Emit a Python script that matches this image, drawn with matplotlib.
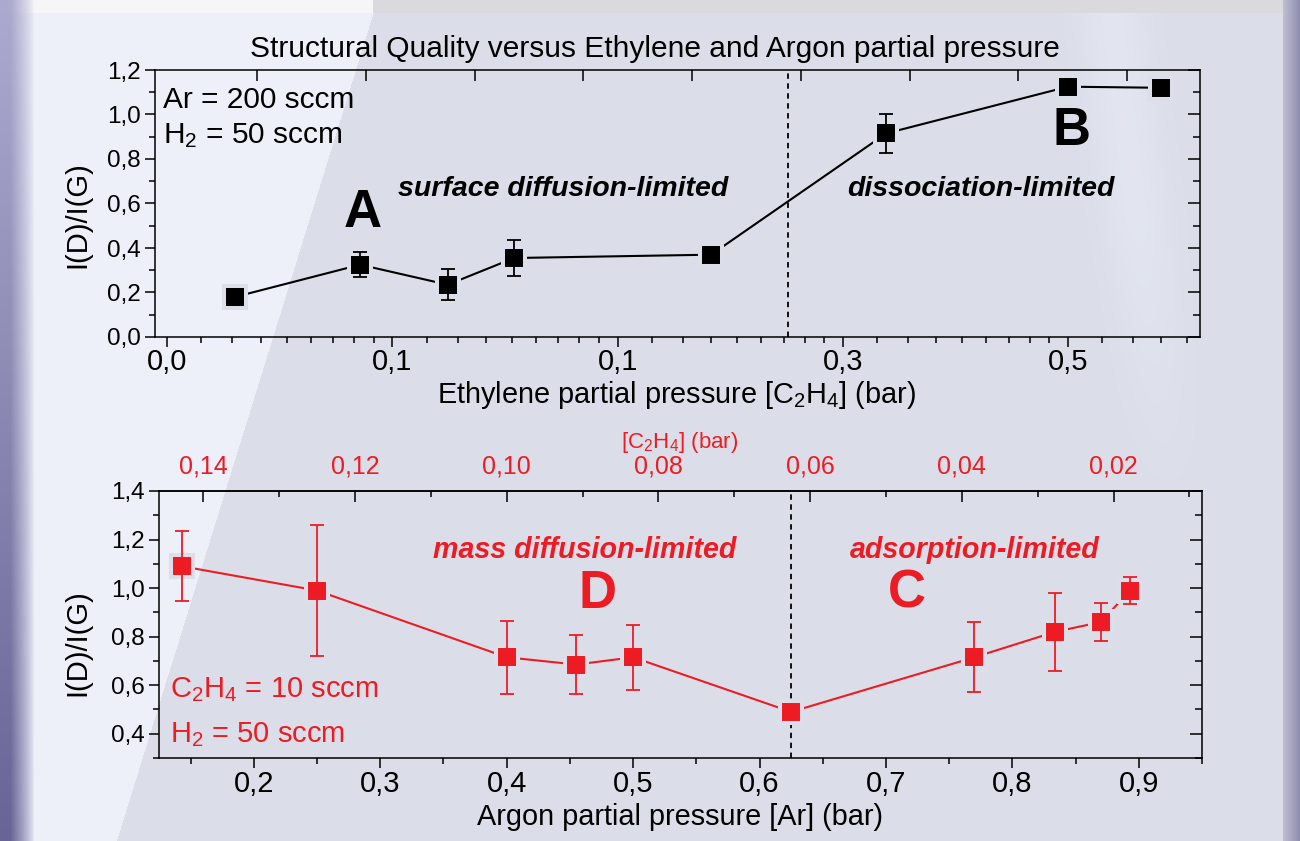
import numpy as np
import matplotlib
matplotlib.use("Agg")
import matplotlib.pyplot as plt
from matplotlib.ticker import FixedLocator, FixedFormatter, MultipleLocator, FuncFormatter, NullFormatter

W, H = 1300, 841

# ethylene series (Ar = 200 sccm, H2 = 50 sccm)
eth_p = [0.0385, 0.0566, 0.0741, 0.0909, 0.1667, 0.2857, 0.5, 0.6667]
eth_ratio = [0.18, 0.325, 0.235, 0.355, 0.37, 0.915, 1.125, 1.12]
eth_err = [0.035, 0.055, 0.07, 0.08, 0.03, 0.088, 0.03, 0.03]
eth_split = 0.211
eth_ticks = [0.03125, 0.0625, 0.125, 0.25, 0.5]
eth_ticklabels = ["0,0", "0,1", "0,1", "0,3", "0,5"]

# argon series (C2H4 = 10 sccm, H2 = 50 sccm)
ar_p = [0.143, 0.25, 0.40, 0.455, 0.50, 0.625, 0.77, 0.834, 0.87, 0.893]
ar_ratio = [1.09, 0.99, 0.715, 0.685, 0.715, 0.49, 0.715, 0.82, 0.86, 0.99]
ar_err = [0.145, 0.27, 0.15, 0.12, 0.135, 0.02, 0.145, 0.16, 0.08, 0.055]
ar_split = 0.625
c2h4_ticks = [0.14, 0.12, 0.10, 0.08, 0.06, 0.04, 0.02]

RED = "#ed1c24"
GAP = "#dcdfe9"
plt.rcParams["font.family"] = ["Liberation Sans", "DejaVu Sans"]


def fx(x):
    return x / W


def fy(y):
    return 1 - y / H


def comma1(v, pos):
    return f"{v:.1f}".replace(".", ",")


def comma2(v, pos):
    return f"{v:.2f}".replace(".", ",")


fig = plt.figure(figsize=(13, 8.41), dpi=100)

# slide background
bg = fig.add_axes([0, 0, 1, 1], zorder=-10)
yy, xx = np.mgrid[0:H, 0:W]
img = np.empty((H, W, 3))
img[:] = np.array([237, 240, 249]) / 255
img[xx > 373 - 0.31 * (yy - 13)] = np.array([219, 222, 232]) / 255
# soft light swoosh on the upper right
sw = np.exp(-((xx - (1110 + 0.12 * yy)) / 35.0) ** 2) * np.clip((520 - yy) / 300, 0, 1) * 0.55
img = img * (1 - sw[..., None]) + np.array([232, 236, 246]) / 255 * sw[..., None]
img[(yy < 13) & (xx < 373)] = np.array([246, 246, 249]) / 255
img[(yy < 13) & (xx >= 373)] = np.array([217, 217, 222]) / 255
w = (np.clip((34 - xx) / 24, 0, 1) ** 0.8)[..., None]
frac = (yy / H)[..., None]
purple = (np.array([172, 170, 206]) * (1 - frac) + np.array([104, 100, 150]) * frac) / 255
img = img * (1 - w) + purple * w
right = xx >= 1283
t = ((xx - 1283) / 17)[right][:, None]
img[right] = (np.array([190, 189, 210]) * (1 - t) + np.array([142, 140, 174]) * t) / 255
bg.imshow(img, extent=(0, W, H, 0), aspect="auto", interpolation="bilinear")
bg.set_axis_off()


def frame(ax, right_major, right_minor):
    ax.set_facecolor("none")
    for s in ax.spines.values():
        s.set_linewidth(1.1)
    rt = ax.twinx()
    rt.set_ylim(ax.get_ylim())
    rt.yaxis.set_major_locator(MultipleLocator(right_major))
    rt.yaxis.set_minor_locator(MultipleLocator(right_minor))
    rt.tick_params(axis="y", which="both", direction="in", labelright=False, width=1.1)
    rt.tick_params(axis="y", which="major", length=9)
    rt.tick_params(axis="y", which="minor", length=5)
    for s in rt.spines.values():
        s.set_visible(False)
    return rt


# ---------- top panel ----------
ax1 = fig.add_axes([fx(155), fy(337), fx(1200) - fx(155), (337 - 70) / H])
ax1.plot(eth_p, eth_ratio, color="k", lw=1.5, zorder=2)
ax1.plot(eth_p, eth_ratio, "s", ls="none", ms=15.8, mfc="k", mec=GAP, mew=2.9, zorder=3)
ax1.errorbar(eth_p, eth_ratio, yerr=eth_err, fmt="none", ecolor="k",
             elinewidth=1.3, capsize=4.7, capthick=1.3, zorder=4)
ax1.axvline(eth_split, color="k", ls=(0, (3, 2.5)), lw=1.3, zorder=1)
ax1.set_xscale("log", base=2)
ax1.set_xlim(0.0301, 0.7506)
ax1.set_ylim(0, 1.2)
ax1.xaxis.set_major_locator(FixedLocator(eth_ticks))
ax1.xaxis.set_major_formatter(FixedFormatter(eth_ticklabels))
ax1.xaxis.set_minor_locator(FixedLocator([t * (1 + k / 9) for t in eth_ticks for k in range(1, 9)]))
ax1.xaxis.set_minor_formatter(NullFormatter())
ax1.yaxis.set_major_locator(MultipleLocator(0.2))
ax1.yaxis.set_minor_locator(MultipleLocator(0.1))
ax1.yaxis.set_major_formatter(FuncFormatter(comma1))
ax1.tick_params(axis="both", which="both", direction="out", width=1.1)
ax1.tick_params(axis="both", which="major", length=7)
ax1.tick_params(axis="both", which="minor", length=4)
ax1.tick_params(axis="x", labelsize=21, pad=1)
ax1.tick_params(axis="y", labelsize=17.5, pad=3)
frame(ax1, 0.2, 0.1)
tw = ax1.twiny()
tw.set_xlim(-0.938, 8.671)
tw.set_xticks(range(9))
tw.tick_params(axis="x", direction="in", length=8, width=1.1, labeltop=False)
for s in tw.spines.values():
    s.set_visible(False)

fig.text(fx(655), fy(57), "Structural Quality versus Ethylene and Argon partial pressure",
         fontsize=21.5, ha="center", va="baseline")
fig.text(fx(163), fy(108), "Ar = 200 sccm", fontsize=21.5, va="baseline")
fig.text(fx(163), fy(143), r"H$\mathregular{_2}$ = 50 sccm", fontsize=21.5, va="baseline")
fig.text(fx(363), fy(227), "A", fontsize=38, weight="bold", ha="center", va="baseline")
fig.text(fx(1072), fy(145), "B", fontsize=38, weight="bold", ha="center", va="baseline")
fig.text(fx(398), fy(196), "surface diffusion-limited", fontsize=20.5, weight="bold",
         style="italic", va="baseline")
fig.text(fx(847), fy(196), "dissociation-limited", fontsize=20.5, weight="bold",
         style="italic", va="baseline")
fig.text(fx(676), fy(403), r"Ethylene partial pressure [C$\mathregular{_2}$H$\mathregular{_4}$] (bar)",
         fontsize=20.8, ha="center", va="baseline")
fig.text(fx(77), fy(215), "I(D)/I(G)", fontsize=21, rotation=90, ha="center", va="center")

# ---------- bottom panel ----------
ax2 = fig.add_axes([fx(159), fy(758), fx(1202) - fx(159), (758 - 491) / H])
ax2.plot(ar_p, ar_ratio, color=RED, lw=1.5, zorder=2)
ax2.plot(ar_p, ar_ratio, "s", ls="none", ms=16.5, mfc=RED, mec=GAP, mew=2.9, zorder=3)
ax2.errorbar(ar_p, ar_ratio, yerr=ar_err, fmt="none", ecolor=RED,
             elinewidth=1.3, capsize=4.7, capthick=1.3, zorder=4)
ax2.axvline(ar_split, color="k", ls=(0, (3, 2.5)), lw=1.3, zorder=1)
ax2.set_xlim(0.125, 0.95)
ax2.set_ylim(0.3, 1.4)
ax2.xaxis.set_major_locator(MultipleLocator(0.1))
ax2.xaxis.set_minor_locator(MultipleLocator(0.05))
ax2.xaxis.set_major_formatter(FuncFormatter(comma1))
ax2.yaxis.set_major_locator(MultipleLocator(0.2))
ax2.yaxis.set_minor_locator(MultipleLocator(0.1))
ax2.yaxis.set_major_formatter(FuncFormatter(comma1))
ax2.tick_params(axis="both", which="both", direction="out", width=1.1)
ax2.tick_params(axis="both", which="major", length=7)
ax2.tick_params(axis="both", which="minor", length=4)
ax2.tick_params(axis="x", labelsize=21, pad=2)
ax2.tick_params(axis="y", labelsize=17.5, pad=3)
frame(ax2, 0.2, 0.1)

# ethylene partial pressure follows from argon: [C2H4] = (1 - [Ar]) / 6
sec = ax2.secondary_xaxis("top", functions=(lambda a: (1 - a) / 6, lambda c: 1 - 6 * c))
sec.xaxis.set_major_locator(FixedLocator(c2h4_ticks))
sec.xaxis.set_minor_locator(MultipleLocator(0.01))
sec.xaxis.set_major_formatter(FuncFormatter(comma2))
sec.tick_params(axis="x", which="both", direction="in", width=1.1, labelcolor=RED,
                labelsize=18, pad=9)
sec.tick_params(axis="x", which="major", length=8)
sec.tick_params(axis="x", which="minor", length=4)
sec.spines["top"].set_linewidth(1.1)

fig.text(fx(680), fy(448), r"[C$\mathregular{_2}$H$\mathregular{_4}$] (bar)", fontsize=16,
         color=RED, ha="center", va="baseline")
fig.text(fx(433), fy(558), "mass diffusion-limited", fontsize=20.6, weight="bold",
         style="italic", color=RED, va="baseline")
fig.text(fx(850), fy(558), "adsorption-limited", fontsize=20.6, weight="bold",
         style="italic", color=RED, va="baseline")
fig.text(fx(598), fy(608), "D", fontsize=38, weight="bold", color=RED, ha="center", va="baseline")
fig.text(fx(907), fy(608), "C", fontsize=38, weight="bold", color=RED, ha="center", va="baseline")
fig.text(fx(170), fy(697), r"C$\mathregular{_2}$H$\mathregular{_4}$ = 10 sccm", fontsize=21,
         color=RED, va="baseline")
fig.text(fx(170), fy(742), r"H$\mathregular{_2}$ = 50 sccm", fontsize=21, color=RED, va="baseline")
fig.text(fx(680), fy(825), "Argon partial pressure [Ar] (bar)", fontsize=20.8,
         ha="center", va="baseline")
fig.text(fx(77), fy(643), "I(D)/I(G)", fontsize=21, rotation=90, ha="center", va="center")

fig.savefig("out.png", dpi=100)
